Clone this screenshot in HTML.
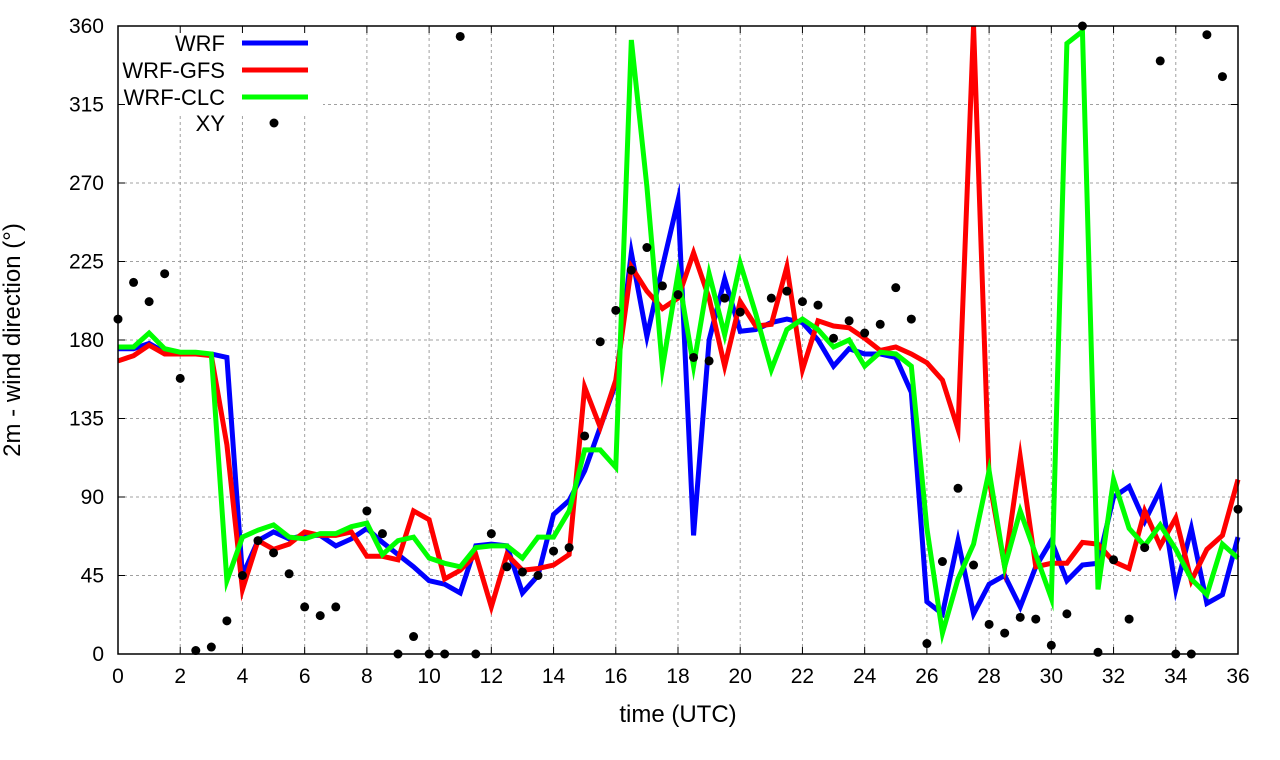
<!DOCTYPE html>
<html><head><meta charset="utf-8"><style>
body{margin:0;background:#fff;}
svg{display:block;font-family:"Liberation Sans",sans-serif;}
</style></head><body>
<svg id="chart" width="1280" height="760" xmlns="http://www.w3.org/2000/svg"></svg>
<script>
const times = Array.from({length:73},(_, i)=>i*0.5);
const wrf = [175,175,178,173,172,172,172,170,45,65,70,66,68,68,62,66,72,64,57,50,42,40,35,62,63,62,35,45,80,88,105,130,155,230,182,222,260,68,180,215,185,186,190,192,190,180,165,175,172,172,170,150,30,23,65,23,40,45,27,50,65,42,51,52,90,96,76,94,37,72,29,34,67];
const wrfGfs = [168,171,177,172,172,172,171,120,37,65,60,63,70,68,68,70,56,56,54,82,77,43,48,57,27,57,48,49,51,57,153,130,157,222,208,198,204,230,204,165,202,188,189,222,163,191,188,187,181,174,176,172,167,157,129,360,100,50,113,50,52,52,64,63,53,49,82,62,78,42,60,68,100];
const wrfClc = [176,176,184,175,173,173,172,42,67,71,74,67,66,69,69,73,75,57,65,67,55,52,50,61,62,62,55,67,67,82,117,117,107,352,268,164,218,165,218,183,224,195,163,186,192,186,176,180,165,173,172,165,72,12,43,63,105,50,82,57,32,350,357,37,100,72,62,74,60,43,34,63,55];
const xy = [192,213,202,218,158,2,4,19,45,65,58,46,27,22,27,null,82,69,0,10,0,0,354,0,69,50,47,45,59,61,125,179,197,220,233,211,206,170,168,204,196,null,204,208,202,200,181,191,184,189,210,192,6,53,95,51,17,12,21,20,5,23,360,1,54,20,61,340,0,0,355,331,83];
const xTicks = [0,2,4,6,8,10,12,14,16,18,20,22,24,26,28,30,32,34,36];
const yTicks = [0,45,90,135,180,225,270,315,360];

const L=118,R=1238,T=26,B=654;
const sx=t=>L+(t-0)/(36-0)*(R-L);
const sy=v=>B-(v-0)/(360-0)*(B-T);
const NS="http://www.w3.org/2000/svg";
const svg=document.getElementById('chart');
function mk(tag,attrs,parent){const e=document.createElementNS(NS,tag);for(const k in attrs)e.setAttribute(k,attrs[k]);(parent||svg).appendChild(e);return e;}

const grid=mk('g',{});


xTicks.forEach(t=>{if(t>0&&t<36){const l=mk('line',{x1:sx(t),x2:sx(t),y1:T,y2:B,stroke:'#a0a0a0','stroke-width':1,'stroke-dasharray':'3,3'},grid);

}});
yTicks.forEach(v=>{if(v>0&&v<360){const l=mk('line',{x1:L,x2:R,y1:sy(v),y2:sy(v),stroke:'#a0a0a0','stroke-width':1,'stroke-dasharray':'3,3'},grid);

}});

const lb=mk('rect',{x:L+1,y:T+1,width:204,height:88,fill:'#fff'});



const ticksG=mk('g',{'font-size':21,fill:'#000'});


xTicks.forEach(t=>{
  mk('line',{x1:sx(t),x2:sx(t),y1:B,y2:B-7,stroke:'#000'},ticksG);
  mk('line',{x1:sx(t),x2:sx(t),y1:T,y2:T+7,stroke:'#000'},ticksG);
  const tx=mk('text',{x:sx(t),y:B+29,'text-anchor':'middle'},ticksG);tx.textContent=t;
  
  
});
yTicks.forEach(v=>{
  mk('line',{x1:L,x2:L+7,y1:sy(v),y2:sy(v),stroke:'#000'},ticksG);
  mk('line',{x1:R,x2:R-7,y1:sy(v),y2:sy(v),stroke:'#000'},ticksG);
  const tx=mk('text',{x:L-14,y:sy(v)+7,'text-anchor':'end'},ticksG);tx.textContent=v;
  
  
});

function series(vals,color,name){
  const pts=vals.map((v,i)=>sx(times[i])+','+sy(v)).join(' ');
  const p=mk('polyline',{points:pts,fill:'none',stroke:color,'stroke-width':5,'stroke-linejoin':'miter','stroke-miterlimit':10});
  
  
}
series(wrf,'#0000ff','wrf-line');
series(wrfGfs,'#ff0000','wrf-gfs-line');
series(wrfClc,'#00ff00','wrf-clc-line');
const dots=mk('g',{fill:'#000'});


xy.forEach((v,i)=>{if(v===null)return;const c=mk('circle',{cx:sx(times[i]),cy:sy(v),r:4.5},dots);

});

const frame=mk('rect',{x:L,y:T,width:R-L,height:B-T,fill:'none',stroke:'#000','stroke-width':1.5});



const leg=mk('g',{'font-size':22});


[['WRF','#0000ff',43],['WRF-GFS','#ff0000',70],['WRF-CLC','#00ff00',97],['XY',null,123]].forEach(([n,c,y])=>{
  const tx=mk('text',{x:225,y:y+8,'text-anchor':'end'},leg);tx.textContent=n;
  
  
  if(c){const l=mk('line',{x1:242,x2:308,y1:y,y2:y,stroke:c,'stroke-width':5},leg);
  
  }
  else{const d=mk('circle',{cx:274,cy:y,r:4.5,fill:'#000'},leg);
  
  }
});

const xt=mk('text',{x:(L+R)/2,y:722,'text-anchor':'middle','font-size':24});xt.textContent='time (UTC)';


const yt=mk('text',{x:0,y:0,'text-anchor':'middle','font-size':24,transform:'translate(20,340) rotate(-90)'});yt.textContent='2m - wind direction (°)';


</script>
</body></html>
